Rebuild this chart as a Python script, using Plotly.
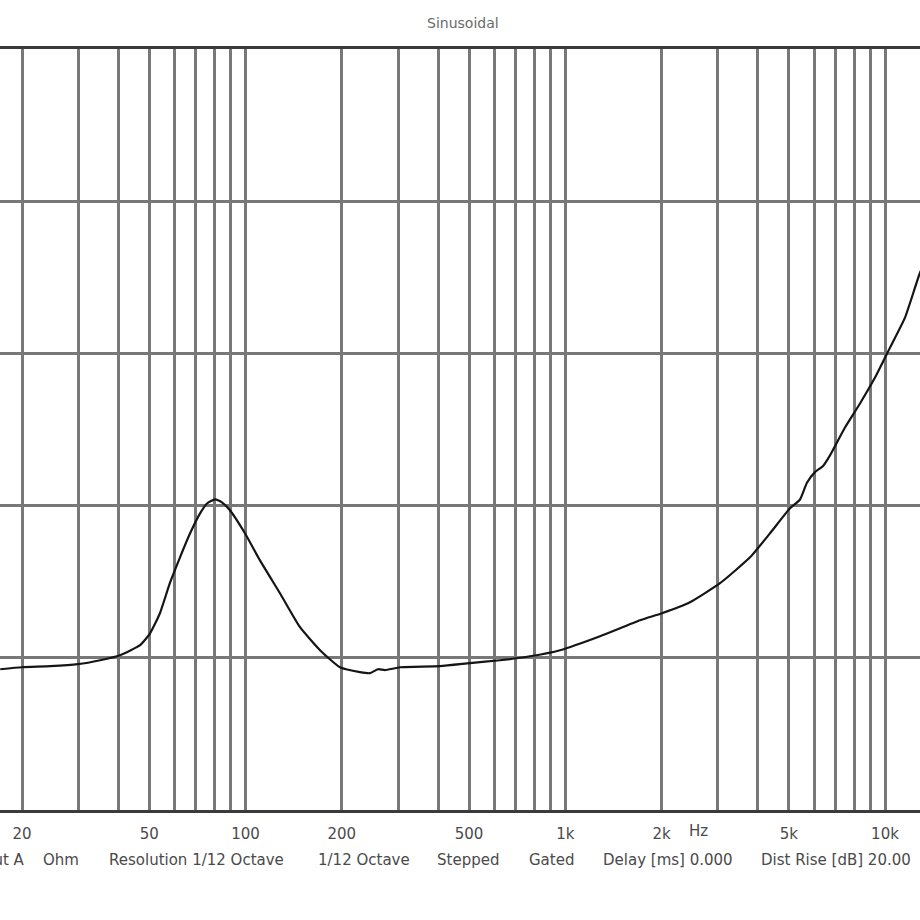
import numpy as np
import plotly.graph_objects as go

# Impedance curve (frequency in Hz, impedance in Ohm)
freq_hz = [17.1, 20.0, 24.5, 29.9, 35.1, 40.5, 46.8, 50.3, 54.0, 58.0, 62.4, 67.1,
           72.1, 75.8, 80.3, 84.4, 89.4, 99.6, 111.0, 128.2, 148.1, 171.0, 197.5,
           228.1, 245.1, 259.6, 273.0, 304.2, 405.9, 503.7, 625.2, 775.9, 962.9,
           1284.6, 1713.4, 2007, 2455, 3048, 3783, 4369, 5045, 5423, 5700, 6040,
           6400, 6729, 7496, 8352, 9305, 10366, 11548, 12866, 13800]
impedance = [9.25, 9.38, 9.45, 9.58, 9.84, 10.17, 10.83, 11.61, 12.93, 14.90, 16.60, 18.18,
             19.49, 20.14, 20.41, 20.21, 19.69, 18.18, 16.40, 14.24, 12.01, 10.50, 9.38,
             9.06, 8.99, 9.25, 9.19, 9.38, 9.45, 9.65, 9.84, 10.10, 10.50,
             11.42, 12.47, 12.93, 13.65, 14.90, 16.60, 18.18, 19.82, 20.40, 21.50, 22.20,
             22.60, 23.30, 25.13, 26.71, 28.41, 30.38, 32.35, 35.30, 36.7]

grid_freqs = [20, 30, 40, 50, 60, 70, 80, 90, 100, 200, 300, 400, 500, 600, 700, 800, 900,
              1000, 2000, 3000, 4000, 5000, 6000, 7000, 8000, 9000, 10000]
labelled = {20: "20", 50: "50", 100: "100", 200: "200", 500: "500",
            1000: "1k", 2000: "2k", 5000: "5k", 10000: "10k"}
grid_text = [labelled.get(f, "") for f in grid_freqs]

y_grid = [0, 10, 20, 30, 40, 50]

footer_items = [
    ("Input A", 27, "right"),
    ("Ohm", 61, "center"),
    ("Resolution 1/12 Octave", 196, "center"),
    ("1/12 Octave", 364, "center"),
    ("Stepped", 468, "center"),
    ("Gated", 551, "center"),
    ("Delay [ms] 0.000", 668, "center"),
    ("Dist Rise [dB] 20.00", 759, "left"),
]

W, H = 920, 920
TOP, BOT = 49, 110
plot_h = H - TOP - BOT

fig = go.Figure()
fig.add_trace(go.Scatter(x=freq_hz, y=impedance, mode="lines",
                         line=dict(color="#151515", width=2.2, shape="spline", smoothing=0.5),
                         hoverinfo="skip", showlegend=False))

font_family = "DejaVu Sans, Verdana, sans-serif"
text_color = "#4a4a4a"

fig.update_layout(
    width=W, height=H,
    margin=dict(l=0, r=0, t=TOP, b=BOT),
    paper_bgcolor="white", plot_bgcolor="white",
    showlegend=False,
    xaxis=dict(type="log", range=[np.log10(17.07), np.log10(12866)],
               tickmode="array", tickvals=grid_freqs, ticktext=grid_text,
               showgrid=True, gridcolor="#787878", gridwidth=2.5,
               showline=True, linecolor="#3a3a3a", linewidth=3, mirror=True,
               ticks="", zeroline=False, ticklabelstandoff=8,
               tickfont=dict(family=font_family, size=15, color=text_color)),
    yaxis=dict(range=[0, 50], tickmode="array", tickvals=y_grid,
               showgrid=True, gridcolor="#787878", gridwidth=2.5,
               showticklabels=False, showline=False, zeroline=False, ticks=""),
)

anns = []
anns.append(dict(text="Sinusoidal", xref="paper", yref="paper",
                 x=463 / W, y=1 + (TOP - 23) / plot_h, xanchor="center", yanchor="middle",
                 showarrow=False, font=dict(family=font_family, size=14, color="#6a6a6a")))
anns.append(dict(text="Hz", xref="paper", yref="paper",
                 x=698 / W, y=-(831 - (H - BOT)) / plot_h, xanchor="center", yanchor="middle",
                 showarrow=False, font=dict(family=font_family, size=15, color=text_color)))
for txt, px, anchor in footer_items:
    anns.append(dict(text=txt, xref="paper", yref="paper",
                     x=px / W, y=-(860 - (H - BOT)) / plot_h, xanchor=anchor, yanchor="middle",
                     showarrow=False, font=dict(family=font_family, size=15, color=text_color)))
fig.update_layout(annotations=anns)

fig.write_html("out.html")
